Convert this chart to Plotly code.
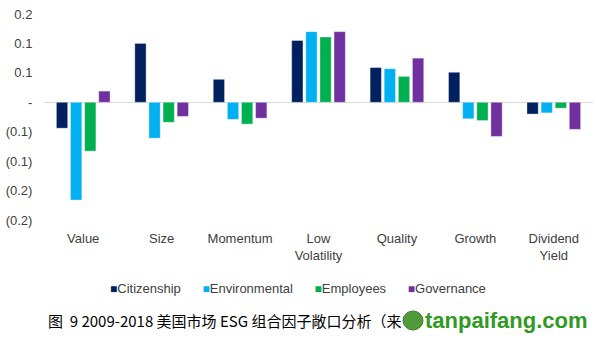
import plotly.graph_objects as go

factors = ["Value", "Size", "Momentum", "Low<br>Volatility", "Quality", "Growth", "Dividend<br>Yield"]

citizenship = [-0.044, 0.100, 0.039, 0.105, 0.059, 0.051, -0.020]
environmental = [-0.166, -0.061, -0.029, 0.120, 0.057, -0.028, -0.018]
employees = [-0.083, -0.034, -0.037, 0.111, 0.044, -0.031, -0.010]
governance = [0.019, -0.024, -0.027, 0.120, 0.075, -0.058, -0.046]

series_names = ["Citizenship", "Environmental", "Employees", "Governance"]
series_values = [citizenship, environmental, employees, governance]
series_colors = ["#002060", "#00B0F0", "#00B050", "#7030A0"]

tick_vals = [0.15, 0.10, 0.05, 0.0, -0.05, -0.10, -0.15, -0.20]
tick_text = ["0.2", "0.1", "0.1", "-", "(0.1)", "(0.1)", "(0.2)", "(0.2)"]

caption = "图  9 2009-2018 美国市场 ESG 组合因子敞口分析（来"
watermark = "tanpaifang.com"

W, H = 597, 339
M_L, M_R, M_T, M_B = 44, 4, 14, 119
PLOT_W = W - M_L - M_R
PLOT_H = H - M_T - M_B


def px_x(px):
    """Pixel column -> paper x."""
    return (px - M_L) / PLOT_W


def px_y(py):
    """Pixel row (from top) -> paper y."""
    return (H - M_B - py) / PLOT_H


fig = go.Figure()
for name, vals, color in zip(series_names, series_values, series_colors):
    fig.add_trace(go.Bar(
        name=name, x=factors, y=vals, showlegend=False,
        marker=dict(color=color, line=dict(color="rgba(255,255,255,0.6)", width=0.6)),
    ))

fig.update_layout(
    width=W, height=H,
    margin=dict(l=M_L, r=M_R, t=M_T, b=M_B),
    paper_bgcolor="white", plot_bgcolor="white",
    barmode="group", bargap=0.28, bargroupgap=0.2,
    font=dict(family="Liberation Sans, Arial, sans-serif", size=13, color="#404040"),
    xaxis=dict(
        showgrid=False, showline=False, zeroline=False,
        ticks="outside", ticklen=6, tickcolor="rgba(0,0,0,0)",
        tickfont=dict(size=13, color="#404040"),
    ),
    yaxis=dict(
        range=[-0.2, 0.15], showgrid=False, showline=False,
        zeroline=True, zerolinecolor="#d9d9d9", zerolinewidth=1,
        tickvals=tick_vals, ticktext=tick_text,
        ticks="outside", ticklen=8, tickcolor="rgba(0,0,0,0)",
        tickfont=dict(size=13, color="#404040"),
    ),
)

# compact legend row: small coloured square followed by the series name
legend_text = "&nbsp;&nbsp;&nbsp;&nbsp;&nbsp;&nbsp;".join(
    f"<span style='color:{c};font-size:12px'>■</span>{n}"
    for n, c in zip(series_names, series_colors)
)
fig.add_annotation(
    xref="paper", yref="paper", x=px_x(298), y=px_y(288),
    xanchor="center", yanchor="middle", showarrow=False,
    text=legend_text, font=dict(size=13, color="#404040"),
)

# figure caption
fig.add_annotation(
    xref="paper", yref="paper", x=px_x(46), y=px_y(320),
    xanchor="left", yanchor="middle", showarrow=False,
    text=caption,
    font=dict(family="Noto Sans CJK SC", size=15, color="#000000"),
)

# site watermark with round logo
fig.add_shape(
    type="circle", xref="paper", yref="paper",
    x0=px_x(403), x1=px_x(423), y0=px_y(330), y1=px_y(311),
    fillcolor="#4f9a3b", line=dict(color="#3b7f2a", width=1),
)
fig.add_annotation(
    xref="paper", yref="paper", x=px_x(590), y=px_y(320),
    xanchor="right", yanchor="middle", showarrow=False,
    text=f"<b>{watermark}</b>",
    font=dict(family="Liberation Sans", size=22, color="#2f9a22"),
)

fig.write_html("out.html")
